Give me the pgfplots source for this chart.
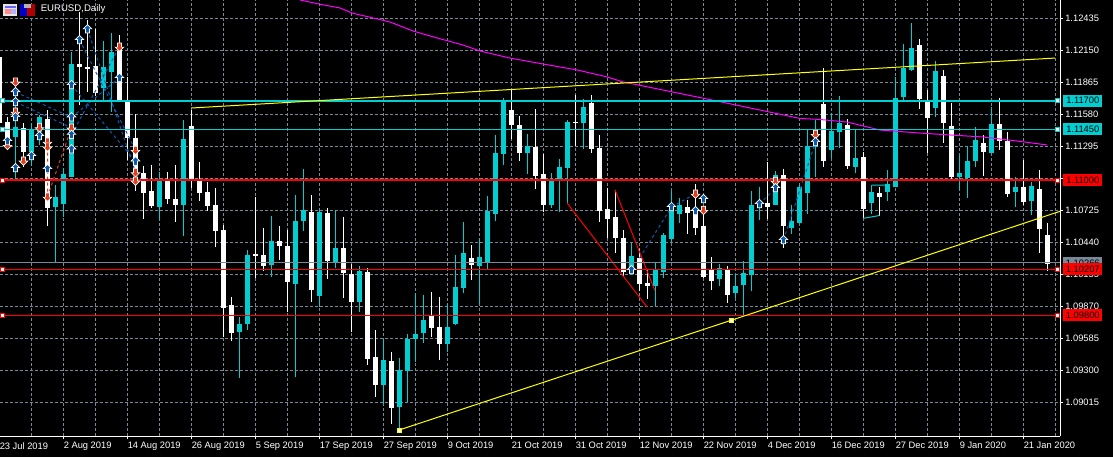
\documentclass[border=0pt]{standalone}
\usepackage{fontspec}
\setmainfont{Liberation Sans}
\usepackage{pgfplots}
\usepackage{pgfplotstable}
\pgfplotsset{compat=1.18}
\definecolor{bullc}{RGB}{0,206,209}
\definecolor{gridc}{RGB}{119,136,153}
\definecolor{buyc}{RGB}{10,90,175}
\definecolor{sellc}{RGB}{230,60,25}
\definecolor{magc}{RGB}{255,0,255}
\definecolor{yelc}{RGB}{255,255,0}
\pgfdeclareplotmark{buyarrow}{%
  \pgfpathmoveto{\pgfqpoint{0pt}{3.5pt}}%
  \pgfpathlineto{\pgfqpoint{3.2pt}{0.3pt}}%
  \pgfpathlineto{\pgfqpoint{1.5pt}{0.3pt}}%
  \pgfpathlineto{\pgfqpoint{1.5pt}{-2.8pt}}%
  \pgfpathlineto{\pgfqpoint{-1.5pt}{-2.8pt}}%
  \pgfpathlineto{\pgfqpoint{-1.5pt}{0.3pt}}%
  \pgfpathlineto{\pgfqpoint{-3.2pt}{0.3pt}}%
  \pgfpathclose\pgfusepathqfillstroke}
\pgfdeclareplotmark{sellarrow}{%
  \pgfpathmoveto{\pgfqpoint{0pt}{-3.5pt}}%
  \pgfpathlineto{\pgfqpoint{3.2pt}{-0.3pt}}%
  \pgfpathlineto{\pgfqpoint{1.5pt}{-0.3pt}}%
  \pgfpathlineto{\pgfqpoint{1.5pt}{2.8pt}}%
  \pgfpathlineto{\pgfqpoint{-1.5pt}{2.8pt}}%
  \pgfpathlineto{\pgfqpoint{-1.5pt}{-0.3pt}}%
  \pgfpathlineto{\pgfqpoint{-3.2pt}{-0.3pt}}%
  \pgfpathclose\pgfusepathqfillstroke}
\pgfplotstableread{
k top bot high low
-1 1.12093 1.11504 1.12093 1.11460
0 1.11513 1.11371 1.11558 1.11264
2 1.11460 1.11246 1.11504 1.11113
5 1.11540 1.10748 1.11620 1.10588
9 1.12030 1.12004 1.12493 1.11664
10 1.12004 1.11986 1.12422 1.11780
11 1.12013 1.11771 1.12342 1.11745
14 1.12155 1.11709 1.12288 1.11691
15 1.11691 1.11371 1.11915 1.11175
16 1.11371 1.11041 1.11584 1.10899
17 1.11059 1.10881 1.11122 1.10650
18 1.10899 1.10766 1.11131 1.10748
20 1.10988 1.10828 1.11068 1.10783
21 1.10828 1.10774 1.11131 1.10623
23 1.11478 1.10988 1.11620 1.10926
24 1.11006 1.10881 1.11157 1.10810
25 1.10890 1.10766 1.10979 1.10721
26 1.10774 1.10543 1.10926 1.10400
27 1.10552 1.09857 1.10596 1.09599
28 1.09883 1.09634 1.09955 1.09563
31 1.10337 1.10320 1.10846 1.10124
32 1.10328 1.10231 1.10570 1.10186
34 1.10453 1.10409 1.10588 1.10284
35 1.10409 1.10088 1.10552 1.09821
38 1.10712 1.10017 1.10863 1.09910
40 1.10703 1.10275 1.10748 1.10115
42 1.10391 1.10168 1.10668 1.09946
43 1.10159 1.09910 1.10249 1.09643
45 1.10177 1.09403 1.10213 1.09349
46 1.09421 1.09171 1.09661 1.09064
48 1.09385 1.08966 1.09465 1.08824
53 1.09786 1.09679 1.09999 1.09599
54 1.09688 1.09536 1.09955 1.09394
58 1.10302 1.10240 1.10418 1.10106
63 1.11620 1.11487 1.11798 1.11362
64 1.11487 1.11237 1.11567 1.11166
66 1.11291 1.11032 1.11629 1.10917
67 1.11050 1.10774 1.11228 1.10712
71 1.11513 1.11504 1.11753 1.11300
73 1.11683 1.11273 1.11753 1.11237
74 1.11282 1.10721 1.11398 1.10623
75 1.10739 1.10650 1.10926 1.10480
76 1.10668 1.10480 1.10908 1.10346
77 1.10480 1.10177 1.10552 1.10142
79 1.10302 1.10070 1.10382 1.10008
80 1.10079 1.10053 1.10195 1.09937
85 1.10757 1.10703 1.10819 1.10516
86 1.10730 1.10570 1.10961 1.10507
87 1.10588 1.10133 1.10694 1.10124
88 1.10195 1.10097 1.10311 1.10017
90 1.10195 1.09972 1.10231 1.09901
95 1.10792 1.10757 1.11157 1.10650
97 1.11041 1.10588 1.11095 1.10391
102 1.11674 1.11166 1.11995 1.11113
105 1.11487 1.11122 1.11540 1.11095
107 1.11202 1.10739 1.11246 1.10659
109 1.10881 1.10846 1.10935 1.10677
114 1.12199 1.11718 1.12253 1.11629
115 1.11691 1.11549 1.11798 1.11237
117 1.11923 1.11504 1.11977 1.11326
118 1.11478 1.11024 1.11683 1.11006
122 1.11326 1.11246 1.11398 1.11032
124 1.11496 1.11344 1.11727 1.11264
125 1.11344 1.10872 1.11424 1.10846
127 1.10935 1.10801 1.11175 1.10774
129 1.10917 1.10561 1.11086 1.10346
130 1.10507 1.10249 1.10614 1.10186
}\beartable
\pgfplotstableread{
k top bot high low
1 1.11469 1.11380 1.11753 1.10997
3 1.11451 1.11246 1.11504 1.11122
4 1.11558 1.11424 1.11576 1.11309
6 1.10846 1.10757 1.10952 1.10257
7 1.11050 1.10783 1.11104 1.10668
8 1.12030 1.11024 1.12137 1.11024
12 1.12004 1.11817 1.12235 1.11709
13 1.12137 1.11959 1.12306 1.11602
19 1.10988 1.10757 1.11068 1.10641
22 1.11362 1.10774 1.11531 1.10499
29 1.09714 1.09643 1.09777 1.09234
30 1.10328 1.09714 1.10373 1.09661
33 1.10453 1.10240 1.10677 1.10133
36 1.10632 1.10070 1.10863 1.09243
37 1.10730 1.10632 1.11095 1.10543
39 1.10712 1.09964 1.10739 1.09866
41 1.10391 1.10266 1.10730 1.10213
44 1.10186 1.09910 1.10231 1.09821
47 1.09394 1.09171 1.09581 1.09002
49 1.09305 1.08975 1.09412 1.08770
50 1.09581 1.09296 1.09626 1.09020
51 1.09626 1.09581 1.09990 1.09376
52 1.09750 1.09634 1.09972 1.09545
55 1.09688 1.09536 1.09892 1.09465
56 1.10044 1.09714 1.10328 1.09705
57 1.10346 1.10035 1.10623 1.09990
59 1.10311 1.10231 1.10471 1.09892
60 1.10721 1.10266 1.10854 1.10204
61 1.11237 1.10694 1.11398 1.10632
62 1.11709 1.11228 1.11727 1.11131
65 1.11300 1.11237 1.11407 1.11050
68 1.10988 1.10774 1.11059 1.10748
69 1.11113 1.10997 1.11184 1.10712
70 1.11513 1.11104 1.11531 1.10783
72 1.11647 1.11504 1.11718 1.11273
78 1.10320 1.10195 1.10436 1.10151
81 1.10195 1.10053 1.10266 1.09875
82 1.10507 1.10177 1.10525 1.10124
83 1.10721 1.10471 1.10899 1.10444
84 1.10774 1.10694 1.10837 1.10614
89 1.10213 1.10115 1.10249 1.10053
91 1.10053 1.09990 1.10159 1.09946
92 1.10168 1.10061 1.10275 1.09795
93 1.10774 1.10151 1.10899 1.10008
94 1.10792 1.10748 1.10935 1.10641
96 1.11041 1.10774 1.11077 1.10774
98 1.10632 1.10570 1.10774 1.10516
99 1.10935 1.10614 1.10952 1.10614
100 1.11300 1.10881 1.11442 1.10694
101 1.11335 1.11291 1.11531 1.11024
103 1.11433 1.11264 1.11594 1.11193
104 1.11504 1.11424 1.11745 1.11282
106 1.11193 1.11113 1.11442 1.11059
108 1.10890 1.10792 1.10952 1.10694
110 1.10961 1.10890 1.11086 1.10810
111 1.11727 1.10935 1.11915 1.10935
112 1.11995 1.11736 1.12208 1.11709
113 1.12172 1.11977 1.12395 1.11968
116 1.11968 1.11638 1.12057 1.11558
119 1.11059 1.11024 1.11220 1.10908
120 1.11166 1.11015 1.11300 1.10837
121 1.11353 1.11166 1.11469 1.11113
123 1.11496 1.11237 1.11647 1.11237
126 1.10935 1.10890 1.11024 1.10757
128 1.10944 1.10810 1.10979 1.10685
}\bulltable
\tikzset{pricebox/.style={anchor=west,xshift=2.25pt,inner sep=0pt,minimum width=29.25pt,minimum height=9pt,font=\fontsize{7}{8}\selectfont,text=black}}
\begin{document}
\begin{tikzpicture}
\clip (0,0) rectangle (834.75pt,342.75pt);
\path[use as bounding box,fill=black] (0,0) rectangle (834.75pt,342.75pt);
\begin{axis}[
  at={(-0.375pt,15.75pt)},anchor=south west,
  scale only axis,width=795.375pt,height=327pt,
  xmin=-1,xmax=131.5625,ymin=1.08717,ymax=1.126,
  clip=false,
  axis x line*=bottom,axis y line*=right,
  axis line style={white,line width=0.75pt,-},
  tick style={white,line width=0.75pt},
  tick align=outside,major tick length=2.25pt,minor tick length=0pt,
  xtick={-1,7,15,23,31,39,47,55,63,71,79,87,95,103,111,119,127},
  minor xtick={3,11,19,27,35,43,51,59,67,75,83,91,99,107,115,123,131},
  xticklabels={23 Jul 2019,2 Aug 2019,14 Aug 2019,26 Aug 2019,5 Sep 2019,17 Sep 2019,27 Sep 2019,9 Oct 2019,21 Oct 2019,31 Oct 2019,12 Nov 2019,22 Nov 2019,4 Dec 2019,16 Dec 2019,27 Dec 2019,9 Jan 2020,21 Jan 2020},
  ytick={1.12435,1.12150,1.11865,1.11580,1.11295,1.11010,1.10725,1.10440,1.10155,1.09870,1.09585,1.09300,1.09015},
  scaled y ticks=false,
  tick label style={text=white,font=\fontsize{7}{8}\selectfont},
  xticklabel style={anchor=north west,inner xsep=0pt,yshift=1pt},
  yticklabel style={anchor=west,inner xsep=0pt,xshift=1.5pt,/pgf/number format/.cd,fixed,fixed zerofill,precision=5,assume math mode=true,1000 sep={}},
  xmajorgrids,xminorgrids,ymajorgrids,
  grid style={gridc,line width=0.75pt,dash pattern=on 2.25pt off 1.5pt},
  minor grid style={gridc,line width=0.75pt,dash pattern=on 2.25pt off 1.5pt},
  unbounded coords=jump,
]
% wicks
\addplot[draw=none,forget plot,error bars/.cd,y dir=minus,y explicit,error mark=none,error bar style={draw=bullc,line width=0.75pt}]
  table[x=k,y=high,y error minus expr=\thisrow{high}-\thisrow{low}]{\bulltable};
\addplot[draw=none,forget plot,error bars/.cd,y dir=minus,y explicit,error mark=none,error bar style={draw=white,line width=0.75pt}]
  table[x=k,y=high,y error minus expr=\thisrow{high}-\thisrow{low}]{\beartable};
% bodies
\addplot[draw=none,forget plot,error bars/.cd,y dir=minus,y explicit,error mark=none,error bar style={draw=bullc,line width=3.75pt}]
  table[x=k,y=top,y error minus expr=\thisrow{top}-\thisrow{bot}]{\bulltable};
\addplot[draw=none,forget plot,error bars/.cd,y dir=minus,y explicit,error mark=none,error bar style={draw=white,line width=3.75pt}]
  table[x=k,y=top,y error minus expr=\thisrow{top}-\thisrow{bot}]{\beartable};
% small turquoise polylines
\addplot[bullc,line width=0.75pt] coordinates {(107,1.10656)(108,1.10668)(109,1.10681)(109,nan)(108,1.10952)(110,1.10952)};
% dashed trade links
\addplot[buyc,line width=0.75pt,dash pattern=on 2.25pt off 2.25pt] coordinates {
 (8,1.11400)(14,1.12184)(14,nan)
 (9,1.12244)(16,1.11264)(16,nan)
 (10,1.12339)(16,1.11065)(16,nan)
 (8,1.11843)(16,1.11163)(16,nan)
 (8,1.11555)(14,1.11906)(14,nan)
 (1,1.11691)(8,1.11463)(8,nan)
 (1,1.11780)(8,1.11555)(8,nan)
 (79,1.10302)(83,1.10757)(86,1.10875)(86,nan)
 (94,1.10783)(96,1.10926)(96,nan)
 (97,1.10462)(101,1.11335)};
\addplot[sellc,line width=0.75pt,dash pattern=on 2.25pt off 2.25pt] coordinates {(5,1.10848)(8,1.11463)(8,nan)(5,1.11294)(5,1.10848)};
% moving average
\addplot[magc,line width=0.75pt] coordinates {
 (36.56,1.12600)(38.94,1.12564)(41.56,1.12529)(43.06,1.12484)(45.69,1.12440)(47.81,1.12404)(50.69,1.12324)(53.69,1.12262)(56.94,1.12199)(59.06,1.12146)(62.81,1.12083)(66.94,1.12030)(71.19,1.11977)(74.94,1.11915)(76.94,1.11870)(77.81,1.11858)(87.81,1.11713)(94.06,1.11620)(99.06,1.11545)(101.56,1.11536)(104.94,1.11513)(109.06,1.11442)(114.06,1.11415)(117.81,1.11398)(121.94,1.11380)(126.19,1.11344)(129.94,1.11309)};
% red trend lines
\addplot[red,line width=0.75pt] coordinates {(69.94,1.10792)(79.94,1.09866)};
\addplot[red,line width=0.75pt] coordinates {(75.94,1.10908)(80.94,1.10008)};
% horizontal levels
\addplot[gridc,line width=0.75pt] coordinates {(-1,1.10258)(131.56,1.10258)};
\addplot[bullc,line width=1.5pt,mark=square*,mark options={fill=white,draw=bullc,line width=0.75pt},mark size=1.5pt] coordinates {(-0.65,1.11703)(131.2,1.11703)};
\addplot[bullc,line width=0.75pt,mark=square*,mark options={fill=white,draw=bullc,line width=0.75pt},mark size=1.5pt] coordinates {(-0.65,1.11448)(131.2,1.11448)};
\addplot[red,line width=1.5pt,mark=square*,mark options={fill=white,draw=red,line width=0.75pt},mark size=1.5pt] coordinates {(-0.65,1.10994)(131.2,1.10994)};
\addplot[red,line width=0.75pt,mark=square*,mark options={fill=white,draw=red,line width=0.75pt},mark size=1.5pt] coordinates {(-0.65,1.10202)(131.2,1.10202)};
\addplot[red,line width=0.75pt,mark=square*,mark options={fill=white,draw=red,line width=0.75pt},mark size=1.5pt] coordinates {(-0.65,1.09792)(131.2,1.09792)};
% yellow trend lines
\addplot[yelc,line width=0.75pt] coordinates {(22.97,1.11638)(130.94,1.12083)};
\addplot[yelc,line width=0.75pt] coordinates {(48.94,1.08770)(90.44,1.09747)(131.56,1.10718)};
\addplot[only marks,mark=square*,mark options={fill=white,draw=yelc,line width=0.75pt},mark size=1.5pt] coordinates {(48.94,1.08770)(90.44,1.09747)};
% trade arrows
\addplot[only marks,mark=sellarrow,mark options={solid,draw=white,fill=sellc,line width=0.5pt}] coordinates {
 (0,1.11309)(1,1.11873)(1,1.11605)(2,1.11169)(4,1.11466)(5,1.11338)(5,1.11294)(5,1.10848)(8,1.11463)(14,1.12184)(16,1.11264)(16,1.11065)(16,1.10991)(86,1.10875)(87,1.10730)(96,1.10988)(101,1.11407)};
\addplot[only marks,mark=buyarrow,mark options={solid,draw=white,fill=buyc,line width=0.5pt}] coordinates {
 (0,1.11344)(1,1.11780)(1,1.11691)(1,1.11558)(1,1.11104)(3,1.11211)(4,1.11389)(5,1.11095)(8,1.11843)(8,1.11555)(8,1.11400)(8,1.11270)(9,1.12244)(10,1.12339)(14,1.11906)(16,1.11163)(78,1.10195)(83,1.10757)(86,1.10721)(87,1.10828)(94,1.10783)(96,1.10926)(97,1.10462)(101,1.11335)};
% price boxes
\node[pricebox,fill=bullc] at (axis cs:131.5625,1.11703) {1.11700};
\node[pricebox,fill=bullc] at (axis cs:131.5625,1.11448) {1.11450};
\node[pricebox,fill=gridc] at (axis cs:131.5625,1.10258) {1.10266};
\node[pricebox,fill=red] at (axis cs:131.5625,1.10994) {1.11000};
\node[pricebox,fill=red] at (axis cs:131.5625,1.10202) {1.10207};
\node[pricebox,fill=red] at (axis cs:131.5625,1.09792) {1.09800};
\end{axis}
% title and window icons
\node[anchor=west,inner sep=0pt,text=white,font=\fontsize{7.2}{8}\selectfont] at (30.4pt,335.7pt) {EURUSD,Daily};
\fill[white!80!gray] (2.6pt,339.6pt) rectangle (12.8pt,331pt);
\fill[blue!60!white] (3.4pt,338.6pt) rectangle (12pt,337pt);
\fill[red!45!white] (3.4pt,336.2pt) rectangle (8pt,332pt);
\fill[blue!30!white] (8.6pt,336.2pt) rectangle (12pt,332pt);
\fill[blue!80!black] (15pt,339.8pt) rectangle (20pt,331pt);
\fill[red!70!black] (20pt,339.8pt) rectangle (26.2pt,331pt);
\fill[gray!60!white] (18pt,339.8pt) rectangle (23pt,336.5pt);
\end{tikzpicture}
\end{document}
